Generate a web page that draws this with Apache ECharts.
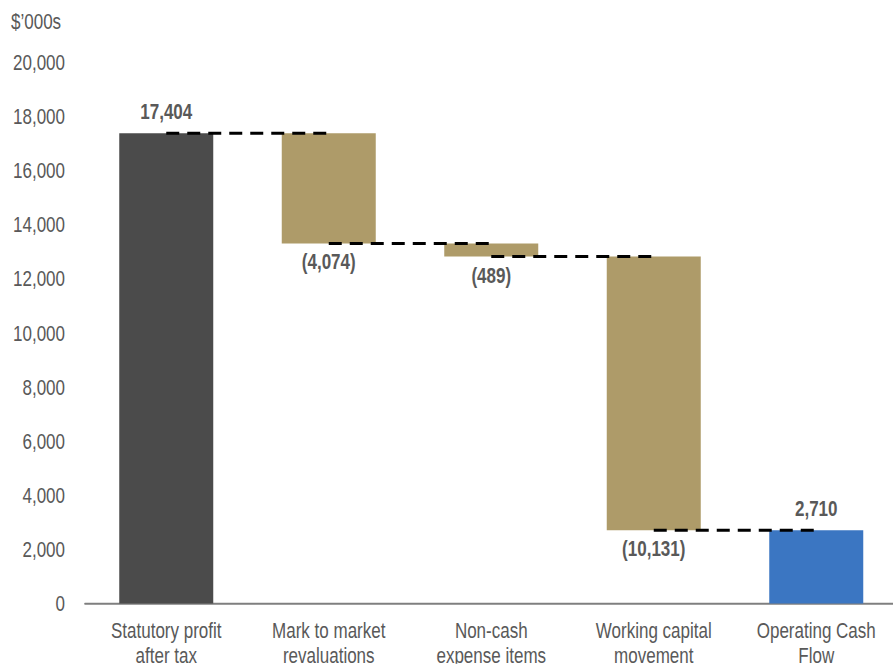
<!DOCTYPE html>
<html>
<head>
<meta charset="utf-8">
<script src="https://cdn.jsdelivr.net/npm/echarts@6/dist/echarts.min.js"></script>
<style>
  html { overflow: hidden; }
  html, body { margin: 0; padding: 0; background: #fff; width: 893px; height: 664px; }
  /* Drawn at 80% height, then stretched back to full height so the
     lettering takes on the tall, narrow look of the house style. */
  #chart {
    width: 893px;
    height: 531.2px;
    transform: scaleY(1.25);
    transform-origin: 0 0;
  }
</style>
</head>
<body>
<div id="chart"></div>
<script>
// Bridge from statutory profit to operating cash flow ($'000s)
const categories = [
  'Statutory profit\nafter tax',
  'Mark to market\nrevaluations',
  'Non-cash\nexpense items',
  'Working capital\nmovement',
  'Operating Cash\nFlow'
];
// Signed movements; first and last entries are totals
const values = [17404, -4074, -489, -10131, 2710];
const isTotal = [true, false, false, false, true];
const yTicks = { min: 0, max: 20000, interval: 2000 };

const COLOR_START = '#4b4b4b';
const COLOR_STEP = '#ae9b69';
const COLOR_END = '#3b76c2';
const TEXT = '#595959';
const FONT = '"Liberation Sans", Arial, sans-serif';

// Build invisible bases, visible heights and running levels for the waterfall
const bases = [];
const heights = [];
const levels = [];
let running = 0;
values.forEach((v, i) => {
  if (isTotal[i]) {
    bases.push(0);
    heights.push(v);
    running = v;
  } else {
    const next = running + v;
    bases.push(Math.min(running, next));
    heights.push(Math.abs(v));
    running = next;
  }
  levels.push(running);
});

const fmt = n => Math.abs(n).toLocaleString('en-US');
const lastIdx = values.length - 1;

const barData = heights.map((h, i) => ({
  value: h,
  itemStyle: {
    color: i === 0 ? COLOR_START : (i === lastIdx ? COLOR_END : COLOR_STEP)
  },
  label: {
    show: true,
    position: values[i] < 0 ? 'bottom' : 'top',
    distance: values[i] < 0 ? 6.5 : 9,
    formatter: values[i] < 0 ? '(' + fmt(values[i]) + ')' : fmt(values[i])
  }
}));

// Dashed connectors from each bar's end level to the next bar
const connectors = [];
for (let i = 0; i < lastIdx; i++) {
  connectors.push({
    type: 'line',
    z: 10,
    symbol: 'none',
    silent: true,
    data: [[categories[i], levels[i]], [categories[i + 1], levels[i]]],
    lineStyle: { color: '#000', width: 2.4, type: [13, 8] }
  });
}

const chart = echarts.init(document.getElementById('chart'), null, { renderer: 'svg' });
chart.setOption({
  animation: false,
  backgroundColor: '#fff',
  textStyle: { fontFamily: FONT },
  graphic: [{
    type: 'text',
    left: 11,
    top: 9,
    style: { text: '$\u2019000s', fill: TEXT, font: '17px ' + FONT }
  }],
  grid: {
    left: 85,
    top: 50.56,
    width: 812.5,
    height: 432.24,
    containLabel: false,
    outerBoundsMode: 'none'
  },
  xAxis: {
    type: 'category',
    data: categories,
    axisLine: { lineStyle: { color: '#7f7f7f', width: 1.6 } },
    axisTick: { show: false },
    axisLabel: {
      color: TEXT,
      fontSize: 17,
      lineHeight: 20,
      margin: 12,
      interval: 0,
      fontFamily: FONT
    }
  },
  yAxis: {
    type: 'value',
    min: yTicks.min,
    max: yTicks.max,
    interval: yTicks.interval,
    splitLine: { show: false },
    axisLine: { show: false },
    axisTick: { show: false },
    axisLabel: {
      color: TEXT,
      fontSize: 17,
      margin: 20,
      fontFamily: FONT,
      formatter: v => v.toLocaleString('en-US')
    }
  },
  series: [
    {
      type: 'bar',
      stack: 'wf',
      barWidth: 94,
      silent: true,
      itemStyle: { color: 'transparent' },
      data: bases
    },
    {
      type: 'bar',
      stack: 'wf',
      barWidth: 94,
      label: {
        color: TEXT,
        fontSize: 17,
        fontWeight: 'bold',
        fontFamily: FONT
      },
      data: barData
    },
    ...connectors
  ]
});
</script>
</body>
</html>
